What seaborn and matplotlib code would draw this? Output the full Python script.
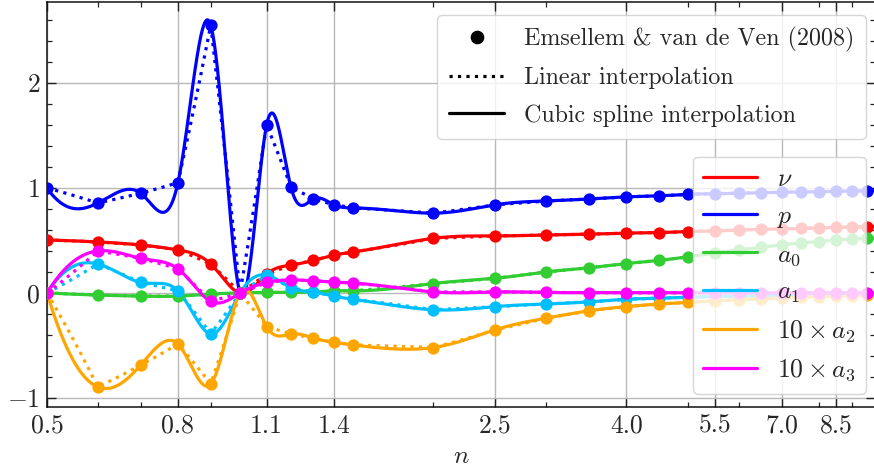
import numpy as np
import pandas as pd
import matplotlib
matplotlib.use("Agg")
import matplotlib.pyplot as plt
import seaborn as sns
from matplotlib.lines import Line2D
from matplotlib.ticker import MultipleLocator, LogLocator, NullFormatter, FixedLocator

# ---------------- data ----------------
n_values = [0.5, 0.6, 0.7, 0.8, 0.9, 1.0, 1.1, 1.2, 1.3, 1.4, 1.5,
            2.0, 2.5, 3.0, 3.5, 4.0, 4.5, 5.0, 5.5, 6.0, 6.5, 7.0, 7.5,
            8.0, 8.5, 9.0, 9.5, 10.0]
nu = [0.505, 0.486, 0.457, 0.41, 0.276, 0.0, 0.18, 0.265, 0.31, 0.36, 0.39,
      0.52, 0.543, 0.552, 0.56, 0.57, 0.575, 0.585, 0.59, 0.60, 0.605, 0.61,
      0.615, 0.62, 0.625, 0.628, 0.632, 0.635]
p = [1.00, 0.857, 0.95, 1.05, 2.55, 0.0, 1.60, 1.01, 0.895, 0.84, 0.81,
     0.76, 0.84, 0.876, 0.895, 0.915, 0.925, 0.94, 0.945, 0.95, 0.955, 0.96,
     0.962, 0.965, 0.968, 0.97, 0.972, 0.975]
a0 = [0.0, -0.02, -0.03, -0.03, -0.01, 0.0, 0.005, 0.005, 0.01, 0.02, 0.02,
      0.09, 0.14, 0.20, 0.24, 0.28, 0.31, 0.345, 0.38, 0.41, 0.435, 0.46,
      0.475, 0.49, 0.505, 0.515, 0.52, 0.525]
a1 = [0.0, 0.276, 0.10, 0.02, -0.39, 0.0, 0.17, 0.05, 0.01, -0.03, -0.06,
      -0.16, -0.13, -0.105, -0.085, -0.06, -0.05, -0.04, -0.035, -0.03,
      -0.026, -0.022, -0.019, -0.016, -0.014, -0.012, -0.011, -0.01]
a2_x10 = [0.0, -0.895, -0.686, -0.486, -0.867, 0.0, -0.32, -0.39, -0.43,
          -0.47, -0.495, -0.52, -0.35, -0.24, -0.17, -0.13, -0.105, -0.09,
          -0.075, -0.065, -0.055, -0.047, -0.04, -0.035, -0.03, -0.027,
          -0.024, -0.021]
a3_x10 = [0.0, 0.40, 0.33, 0.23, -0.08, 0.0, 0.10, 0.125, 0.115, 0.105,
          0.095, 0.01, 0.01, 0.005, 0.003, 0.002, 0.002, 0.001, 0.001, 0.001,
          0.0, 0.0, 0.0, 0.0, 0.0, 0.0, 0.0, 0.0]

series_labels = [r'$\nu$', r'$p$', r'$a_0$', r'$a_1$', r'$10\times a_2$', r'$10\times a_3$']
series_colors = ['#ff0000', '#0000ff', '#32cd32', '#00bfff', '#ffa500', '#ff00ff']
series_values = [nu, p, a0, a1, a2_x10, a3_x10]
yticks = [-1, 0, 1, 2]
ytick_labels = [r'$-1$', r'$0$', r'$1$', r'$2$']
legend1_labels = ['Emsellem & van de Ven (2008)', 'Linear interpolation',
                  'Cubic spline interpolation']


def notaknot_spline(x, y, xq):
    x = np.asarray(x, float)
    y = np.asarray(y, float)
    N = len(x)
    h = np.diff(x)
    A = np.zeros((N, N))
    b = np.zeros(N)
    A[0, 0], A[0, 1], A[0, 2] = h[1], -(h[0] + h[1]), h[0]
    for i in range(1, N - 1):
        A[i, i - 1] = h[i - 1]
        A[i, i] = 2 * (h[i - 1] + h[i])
        A[i, i + 1] = h[i]
        b[i] = 6 * ((y[i + 1] - y[i]) / h[i] - (y[i] - y[i - 1]) / h[i - 1])
    A[-1, -3], A[-1, -2], A[-1, -1] = h[-1], -(h[-2] + h[-1]), h[-2]
    M = np.linalg.solve(A, b)
    idx = np.clip(np.searchsorted(x, xq, side='right') - 1, 0, N - 2)
    x0, x1 = x[idx], x[idx + 1]
    hh = x1 - x0
    return (M[idx] * (x1 - xq) ** 3 / (6 * hh) + M[idx + 1] * (xq - x0) ** 3 / (6 * hh)
            + (y[idx] / hh - M[idx] * hh / 6) * (x1 - xq)
            + (y[idx + 1] / hh - M[idx + 1] * hh / 6) * (xq - x0))


# ---------------- style ----------------
sns.set_theme(style='ticks')
plt.rcParams['font.family'] = ['cmr10', 'DejaVu Serif']
plt.rcParams['mathtext.fontset'] = 'cm'
plt.rcParams['axes.formatter.use_mathtext'] = True
plt.rcParams['axes.unicode_minus'] = False
FS = 18.5
FS_LEG1 = 17.3

fig = plt.figure(figsize=(8.74, 4.72), dpi=100)
ax = fig.add_axes([47 / 874, 65 / 472, 828 / 874, 405 / 472])

xfine = np.geomspace(min(n_values), max(n_values), 3000)
for lab, col, vals in zip(series_labels, series_colors, series_values):
    spl = pd.DataFrame({'n': xfine, 'v': notaknot_spline(n_values, vals, xfine)})
    lin = pd.DataFrame({'n': xfine, 'v': np.interp(xfine, n_values, vals)})
    pts = pd.DataFrame({'n': n_values, 'v': vals})
    sns.lineplot(data=spl, x='n', y='v', color=col, lw=2.3, estimator=None,
                 sort=False, ax=ax, legend=False)
    sns.lineplot(data=lin, x='n', y='v', color=col, lw=2.3, ls=':',
                 estimator=None, sort=False, ax=ax, legend=False)
    sns.scatterplot(data=pts, x='n', y='v', color=col, s=78, linewidth=0,
                    ax=ax, legend=False, zorder=3)

ax.set_xscale('log')
ax.set_xlim(0.5, 9.77)
ax.set_ylim(-1.086, 2.771)

major_n = n_values[::3]
ax.xaxis.set_major_locator(FixedLocator(major_n))
ax.set_xticklabels([f'{v:.1f}' for v in major_n])
ax.xaxis.set_minor_locator(LogLocator(base=10, subs='auto'))
ax.xaxis.set_minor_formatter(NullFormatter())
ax.set_yticks(yticks)
ax.set_yticklabels(ytick_labels)
ax.yaxis.set_minor_locator(MultipleLocator(0.2))

ax.tick_params(which='both', direction='in', top=True, right=True,
               labelsize=FS, color='#222222')
ax.tick_params(which='major', length=6.5, width=1.0, pad=5)
ax.tick_params(which='minor', length=3.5, width=0.9)
for s in ax.spines.values():
    s.set_linewidth(1.1)
    s.set_color('#111111')
ax.grid(True, which='major', color='#b8b8b8', lw=1.0)
ax.set_axisbelow(True)

ax.set_xlabel(r'$n$', fontsize=FS, labelpad=5)
ax.set_ylabel('')

# legend 1: marker / linestyle key
h1 = [Line2D([], [], color='black', marker='o', ls='none', markersize=8.8),
      Line2D([], [], color='black', ls=':', lw=2.3),
      Line2D([], [], color='black', ls='-', lw=2.3)]
leg1 = ax.legend(h1, legend1_labels, loc='upper right',
                 bbox_to_anchor=(866 / 874, 1 - 15 / 472),
                 bbox_transform=fig.transFigure, borderaxespad=0,
                 fontsize=FS_LEG1, handlelength=2.3, labelspacing=0.62,
                 borderpad=0.5, framealpha=0.8)
ax.add_artist(leg1)

# legend 2: series colours
h2 = [Line2D([], [], color=c, lw=2.3) for c in series_colors]
ax.legend(h2, series_labels, loc='upper right',
          bbox_to_anchor=(866 / 874, 1 - 157 / 472),
          bbox_transform=fig.transFigure, borderaxespad=0,
          fontsize=FS, handlelength=2.1, framealpha=0.8)

fig.savefig('out.png', dpi=100)
